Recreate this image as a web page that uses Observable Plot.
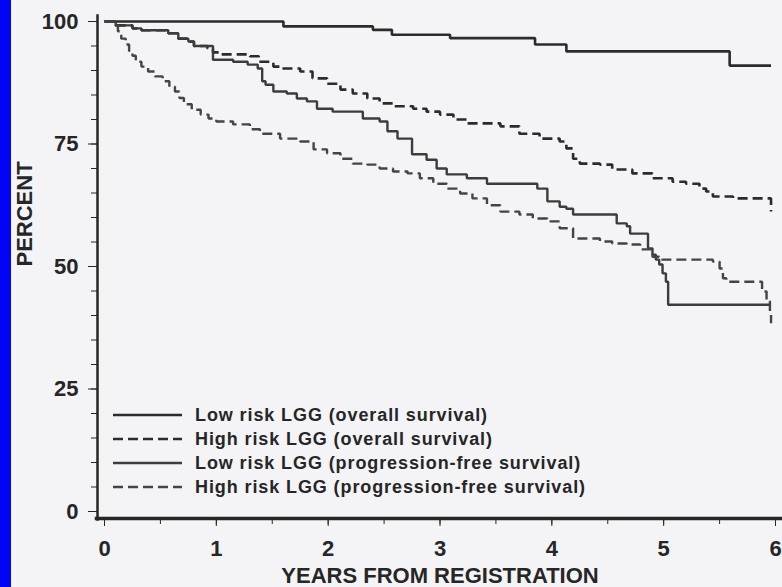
<!DOCTYPE html>
<html>
<head>
<meta charset="utf-8">
<script src="https://cdn.jsdelivr.net/npm/d3@7"></script>
<script src="https://cdn.jsdelivr.net/npm/@observablehq/plot@0.6"></script>
<style>
  html, body { margin: 0; padding: 0; }
  body {
    width: 782px; height: 587px; overflow: hidden;
    background: linear-gradient(to right, #0404f4 0, #0404f4 11px, #f4f4f6 11px);
    font-family: "Liberation Sans", Arial, sans-serif;
  }
  #chart { position: relative; width: 782px; height: 587px; }
  #legend { position: absolute; left: 113px; top: 403px; }
  .row { display: flex; align-items: center; height: 24px; }
  .row svg { display: block; }
  .row span {
    margin-left: 13px; font-size: 18px; font-weight: bold; color: #262626;
    letter-spacing: 0.9px; white-space: nowrap;
  }
</style>
</head>
<body>
<div id="chart"></div>
<script>
// Kaplan-Meier estimates (years from registration, percent surviving)
const lowOS_t = [0, 1.6, 2.4, 2.57, 3.09, 3.85, 4.13, 5.59, 5.96];
const lowOS_v = [100, 99.0, 98.3, 97.3, 96.6, 95.3, 93.9, 91.0, 91.0];

const highOS_t = [0, 0.1, 0.25, 0.33, 0.57, 0.66, 0.75, 0.8, 0.92, 0.97, 1.04, 1.3, 1.38, 1.51, 1.57, 1.75, 1.86, 1.99, 2.11, 2.22, 2.35, 2.46, 2.58, 2.76, 2.88, 3.0, 3.12, 3.24, 3.54, 3.71, 3.89, 4.07, 4.13, 4.19, 4.25, 4.43, 4.54, 4.72, 4.9, 5.08, 5.2, 5.32, 5.38, 5.44, 5.62, 5.96];
const highOS_v = [100, 99.2, 98.6, 98.2, 97.6, 96.5, 95.9, 95.0, 94.5, 93.7, 93.3, 92.9, 91.8, 90.8, 90.4, 89.8, 88.4, 87.3, 86.1, 85.3, 84.3, 83.3, 82.7, 82.2, 81.6, 81.0, 80.0, 79.2, 78.6, 77.1, 76.1, 75.5, 74.1, 72.0, 71.0, 70.8, 69.8, 69.0, 68.0, 67.3, 66.9, 65.9, 65.3, 64.3, 63.9, 61.2];

const lowPFS_t = [0, 0.1, 0.25, 0.33, 0.57, 0.66, 0.75, 0.8, 0.97, 1.15, 1.28, 1.37, 1.41, 1.44, 1.51, 1.63, 1.72, 1.81, 1.9, 2.04, 2.31, 2.46, 2.53, 2.62, 2.75, 2.88, 2.97, 3.06, 3.24, 3.42, 3.87, 3.96, 4.07, 4.13, 4.19, 4.58, 4.67, 4.7, 4.86, 4.9, 4.93, 4.96, 4.99, 5.02, 5.04, 5.96];
const lowPFS_v = [100, 99.2, 98.6, 98.2, 97.6, 96.5, 95.9, 95.0, 92.2, 91.8, 91.2, 90.4, 87.8, 87.1, 85.7, 85.3, 84.3, 83.7, 82.2, 81.6, 80.2, 79.6, 77.6, 76.1, 72.9, 71.8, 70.0, 68.8, 68.0, 66.9, 65.9, 63.3, 62.2, 61.8, 60.6, 58.8, 58.2, 56.7, 53.7, 52.4, 51.4, 50.4, 48.6, 46.9, 42.2, 42.2];

const highPFS_t = [0, 0.08, 0.12, 0.15, 0.19, 0.22, 0.25, 0.28, 0.33, 0.39, 0.45, 0.52, 0.58, 0.63, 0.67, 0.71, 0.78, 0.86, 0.93, 1.0, 1.15, 1.3, 1.39, 1.57, 1.75, 1.87, 1.99, 2.11, 2.22, 2.35, 2.46, 2.58, 2.71, 2.82, 2.94, 3.06, 3.18, 3.29, 3.42, 3.54, 3.71, 3.83, 3.96, 4.07, 4.19, 4.43, 4.54, 4.67, 4.79, 4.9, 4.96, 5.44, 5.5, 5.53, 5.56, 5.88, 5.92, 5.95, 5.96];
const highPFS_v = [100, 99.2, 98.0, 96.5, 95.3, 94.0, 93.0, 91.8, 90.8, 89.8, 88.8, 87.8, 86.7, 85.7, 84.4, 83.1, 82.0, 81.0, 80.2, 79.6, 79.0, 78.0, 77.1, 76.1, 75.5, 73.9, 73.1, 72.0, 71.0, 70.8, 70.0, 69.4, 69.0, 68.0, 66.9, 65.9, 64.9, 63.9, 62.5, 61.2, 60.6, 59.8, 59.2, 57.8, 55.7, 55.1, 54.7, 54.5, 53.5, 52.0, 51.4, 51.0, 49.6, 47.6, 46.9, 44.9, 42.9, 40.2, 38.4];

const seriesLabels = [
  "Low risk LGG (overall survival)",
  "High risk LGG (overall survival)",
  "Low risk LGG (progression-free survival)",
  "High risk LGG (progression-free survival)"
];

// Axis tick values
const yMajor = [0, 25, 50, 75, 100];
const yMinor = d3.range(0, 101, 5);
const xMajor = [0, 1, 2, 3, 4, 5, 6];
const xMinor = d3.range(0, 6.01, 0.5);

const series = [
  {label: seriesLabels[0], t: lowOS_t,   v: lowOS_v,   stroke: "#2b2b2b", width: 2.6, dash: null},
  {label: seriesLabels[1], t: highOS_t,  v: highOS_v,  stroke: "#2b2b2b", width: 2.6, dash: "10,5"},
  {label: seriesLabels[2], t: lowPFS_t,  v: lowPFS_v,  stroke: "#3c3c3c", width: 2.4, dash: null},
  {label: seriesLabels[3], t: highPFS_t, v: highPFS_v, stroke: "#444444", width: 2.4, dash: "10,5"}
];

const ink = "#262626";
const tickFont = {fontSize: 22, fontWeight: "bold", fill: ink};

const curveMarks = series.map(s =>
  Plot.line(s.t.map((t, i) => ({t, v: s.v[i]})), {
    x: "t", y: "v", curve: "step-after",
    stroke: s.stroke, strokeWidth: s.width,
    strokeDasharray: s.dash ?? undefined,
    strokeLinejoin: "miter", strokeLinecap: "butt"
  })
);

const chart = Plot.plot({
  width: 782,
  height: 587,
  marginLeft: 104,
  marginRight: 7,
  marginTop: 21,
  marginBottom: 76,
  x: {domain: [0, 6]},
  y: {domain: [0, 100]},
  style: {background: "transparent", fontFamily: "'Liberation Sans', Arial, sans-serif", color: ink, overflow: "visible"},
  marks: [
    // offset axis lines
    Plot.frame({anchor: "left", insetLeft: -7, insetTop: -6, insetBottom: -8, stroke: ink, strokeWidth: 2.5}),
    Plot.frame({anchor: "bottom", insetBottom: -7, insetLeft: -8, insetRight: -7, stroke: ink, strokeWidth: 3.5}),
    // y axis: minor ticks every 5, labels every 25
    Plot.axisY({ticks: yMinor, tickSize: 6, dx: -7, tickFormat: () => null, label: null, stroke: ink}),
    Plot.axisY({ticks: yMajor, tickSize: 9, dx: -7, tickPadding: 10, tickFormat: d => String(d), label: null, stroke: ink, ...tickFont}),
    // x axis: minor ticks every half year, labels every year
    Plot.axisX({ticks: xMinor, tickSize: 6, dy: 7, tickFormat: () => null, label: null, stroke: ink}),
    Plot.axisX({ticks: xMajor, tickSize: 8, dy: 7, tickPadding: 14, tickFormat: d => String(d), label: null, stroke: ink, ...tickFont}),
    ...curveMarks,
    Plot.text(["PERCENT"], {frameAnchor: "left", rotate: -90, dx: -80, lineAnchor: "middle", ...tickFont}),
    Plot.text(["YEARS FROM REGISTRATION"], {frameAnchor: "bottom", dy: 64, lineAnchor: "middle", ...tickFont})
  ]
});

const holder = document.getElementById("chart");
holder.appendChild(chart);

// Legend: line sample followed by its label
const legend = document.createElement("div");
legend.id = "legend";
series.forEach(s => {
  const row = document.createElement("div");
  row.className = "row";
  const svg = d3.create("svg").attr("width", 69).attr("height", 24);
  svg.append("line")
    .attr("x1", 0).attr("x2", 69).attr("y1", 12).attr("y2", 12)
    .attr("stroke", s.stroke).attr("stroke-width", s.width)
    .attr("stroke-dasharray", s.dash);
  row.appendChild(svg.node());
  const span = document.createElement("span");
  span.textContent = s.label;
  row.appendChild(span);
  legend.appendChild(row);
});
holder.appendChild(legend);
</script>
</body>
</html>
